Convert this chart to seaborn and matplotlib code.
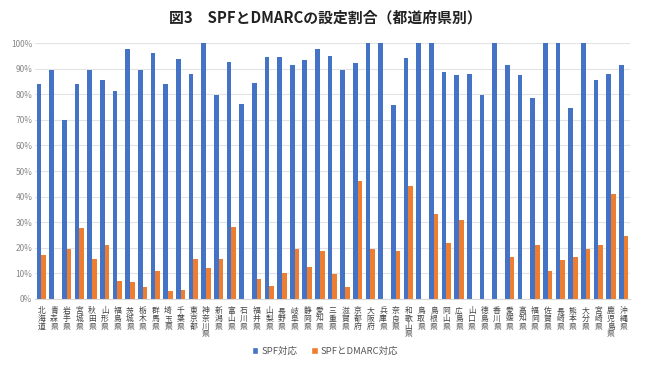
import matplotlib
matplotlib.use("Agg")
import matplotlib.pyplot as plt
import seaborn as sns
import pandas as pd
from matplotlib.patches import Patch

prefectures = ["北海道", "青森県", "岩手県", "宮城県", "秋田県", "山形県", "福島県", "茨城県", "栃木県", "群馬県",
               "埼玉県", "千葉県", "東京都", "神奈川県", "新潟県", "富山県", "石川県", "福井県", "山梨県", "長野県",
               "岐阜県", "静岡県", "愛知県", "三重県", "滋賀県", "京都府", "大阪府", "兵庫県", "奈良県", "和歌山県",
               "鳥取県", "島根県", "岡山県", "広島県", "山口県", "徳島県", "香川県", "愛媛県", "高知県", "福岡県",
               "佐賀県", "長崎県", "熊本県", "大分県", "宮崎県", "鹿児島県", "沖縄県"]

spf = [84.1, 89.5, 69.9, 84.0, 89.5, 85.7, 81.4, 97.5, 89.5, 96.1,
       84.1, 93.9, 88.0, 100, 79.8, 92.7, 76.3, 84.5, 94.5, 94.7,
       91.3, 93.4, 97.8, 94.9, 89.5, 92.2, 100, 100, 75.9, 94.3,
       100, 100, 88.7, 87.4, 88.0, 79.8, 100, 91.5, 87.4, 78.5,
       100, 100, 74.7, 100, 85.7, 88.0, 91.5]

spf_dmarc = [17.2, 0, 19.7, 27.7, 15.6, 21.1, 7.0, 6.8, 4.8, 10.8,
             3.1, 3.6, 15.5, 12.2, 15.8, 28.3, 0, 7.6, 4.9, 10.0,
             19.7, 12.6, 18.8, 9.6, 4.8, 46.1, 19.7, 0, 18.8, 44.1,
             0, 33.1, 21.9, 31.0, 0, 0, 0, 16.4, 0, 21.1,
             10.8, 15.2, 16.4, 19.7, 21.1, 41.0, 24.7]

series_names = ["SPF対応", "SPFとDMARC対応"]
colors = ["#4472C4", "#ED7D31"]

df = pd.DataFrame({
    "pref": prefectures * 2,
    "series": [series_names[0]] * len(prefectures) + [series_names[1]] * len(prefectures),
    "value": [v / 100 for v in spf] + [v / 100 for v in spf_dmarc],
})

sns.set_theme(style="white")
plt.rcParams["font.family"] = ["Noto Sans CJK JP", "DejaVu Sans"]

fig = plt.figure(figsize=(6.5, 3.65), dpi=100)
ax = fig.add_axes([0.054, 0.181, 0.915, 0.701])

sns.barplot(data=df, x="pref", y="value", hue="series", palette=colors,
            width=0.74, gap=0, ax=ax, legend=False, saturation=1, linewidth=0, edgecolor="none")

ax.set_ylim(0, 1.0)
ax.set_xlim(-0.5, len(prefectures) - 0.5)
ax.set_yticks([i / 10 for i in range(11)])
ax.set_yticklabels([f"{i*10}%" for i in range(11)], fontsize=6, color="#888888")
ax.set_xticks(range(len(prefectures)))
ax.set_xticklabels(["\n".join(p) for p in prefectures], fontsize=5.6, color="#444444",
                   linespacing=0.95, va="top")
ax.tick_params(axis="both", length=0, pad=2)
ax.tick_params(axis="x", pad=6)
ax.set_xlabel("")
ax.set_ylabel("")
ax.yaxis.grid(True, color="#E3E3E3", linewidth=0.8)
ax.set_axisbelow(True)
for s in ["top", "right", "left"]:
    ax.spines[s].set_visible(False)
ax.spines["bottom"].set_color("#D9D9D9")
ax.spines["bottom"].set_linewidth(0.8)

fig.text(0.5, 0.953, "図3　SPFとDMARCの設定割合（都道府県別）", ha="center", va="center",
         fontsize=10.7, fontweight="bold", color="#222222")

handles = [Patch(facecolor=c, label=n) for c, n in zip(colors, series_names)]
fig.legend(handles=handles, loc="center", bbox_to_anchor=(0.5, 0.037), ncol=2, frameon=False,
           fontsize=6.8, handlelength=0.7, handleheight=0.7, handletextpad=0.3, columnspacing=1.5,
           labelcolor="#555555")

fig.savefig("out.png", dpi=100)
